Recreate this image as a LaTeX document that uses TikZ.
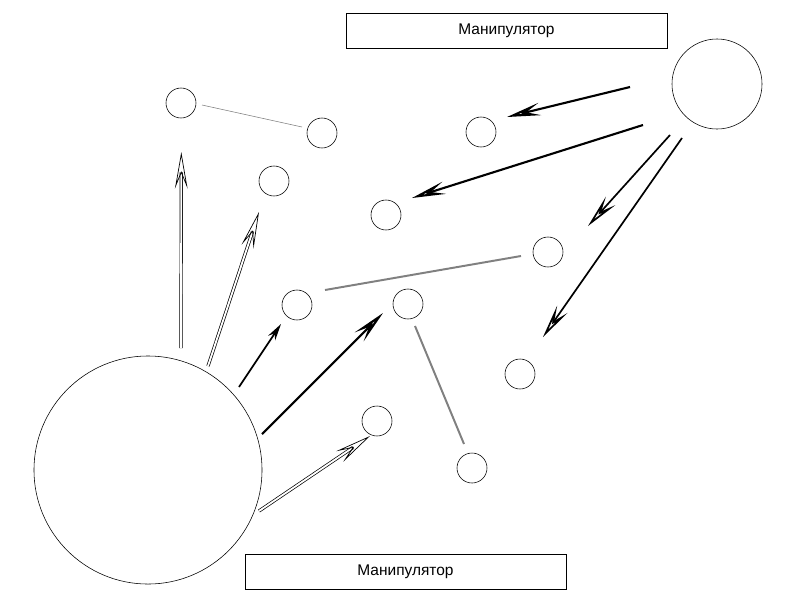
\documentclass[tikz,border=0pt]{standalone}
\usepackage{fontspec}
\setmainfont{Liberation Sans}
\usetikzlibrary{arrows.meta}
\begin{document}
\begin{tikzpicture}[x=0.025cm,y=-0.025cm,
  sm/.style={circle,draw,minimum size=0.75cm,inner sep=0pt},
  lbl/.style={draw,minimum width=8.025cm,minimum height=0.875cm,font=\fontsize{11}{13}\selectfont},
  arr/.style={-{Stealth[open,length=24pt,width=9pt,inset=10pt]},line width=1.2pt},
  darr/.style={double,double distance=1.3pt,line width=0.5pt,-{Stealth[open,length=26pt,width=9pt,inset=11pt]}},
  link/.style={gray,line width=1.4pt}]
\useasboundingbox (0,0) rectangle (800,600);
\node[lbl] (t1) at (506.5,30.5) {Манипулятор};
\node[lbl] (t2) at (405.5,571.5) {Манипулятор};
\node[circle,draw,minimum size=5.7cm,inner sep=0pt] (big) at (148,470) {};
\node[circle,draw,minimum size=2.25cm,inner sep=0pt] (rt) at (717,84) {};
\node[sm] (c1) at (181,103) {};
\node[sm] (c2) at (322,133) {};
\node[sm] (c3) at (274,181) {};
\node[sm] (c4) at (481,132) {};
\node[sm] (c5) at (386,215) {};
\node[sm] (c6) at (548,252) {};
\node[sm] (c7) at (297,305) {};
\node[sm] (c8) at (408,304) {};
\node[sm] (c9) at (377,421) {};
\node[sm] (c10) at (520,374) {};
\node[sm] (c11) at (472,468) {};
\coordinate (a1) at (181,348); \coordinate (b1) at (181.3,152);
\coordinate (a2) at (208,366); \coordinate (b2) at (259,212);
\coordinate (a3) at (239,387); \coordinate (b3) at (281,324);
\coordinate (a4) at (262,434); \coordinate (b4) at (383,313);
\coordinate (a5) at (259,511); \coordinate (b5) at (370,436);
\coordinate (r1) at (630,87); \coordinate (s1) at (507,117);
\coordinate (r2) at (643,125); \coordinate (s2) at (412,198);
\coordinate (r3) at (670,135); \coordinate (s3) at (588,226);
\coordinate (r4) at (682,138); \coordinate (s4) at (543,337);
\coordinate (l1) at (202,105); \coordinate (m1) at (302,127);
\coordinate (l2) at (325,290); \coordinate (m2) at (521,256);
\coordinate (l3) at (415,326); \coordinate (m3) at (464,444);
\draw[gray] (l1) -- (m1);
\draw[link] (l2) -- (m2);
\draw[link] (l3) -- (m3);
\draw[darr] (a1) -- (b1);
\draw[darr] (a2) -- (b2);
\draw[-{Stealth[length=12pt,width=6pt,inset=4pt]},line width=1.2pt] (a3) -- (b3);
\draw[arr,line width=1.5pt] (a4) -- (b4);
\draw[darr] (a5) -- (b5);
\draw[arr,line width=1.5pt] (r1) -- (s1);
\draw[arr,line width=1.5pt] (r2) -- (s2);
\draw[arr] (r3) -- (s3);
\draw[arr] (r4) -- (s4);
\end{tikzpicture}
\end{document}
